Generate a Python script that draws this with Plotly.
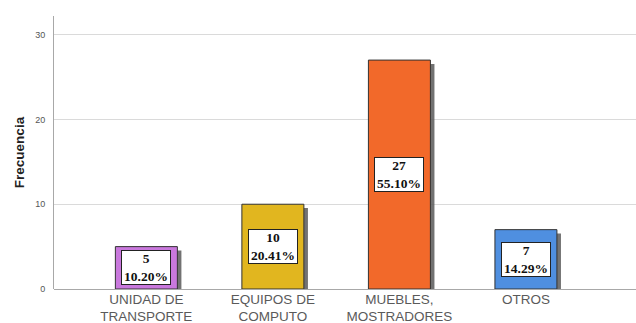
import plotly.graph_objects as go

# Frequency of asset categories
categories = ["UNIDAD DE<br>TRANSPORTE", "EQUIPOS DE<br>COMPUTO", "MUEBLES,<br>MOSTRADORES", "OTROS"]
frequencies = [5, 10, 27, 7]
bar_colors = ["#C978DD", "#E1B61F", "#F2692A", "#4F8FE0"]
y_ticks = [0, 10, 20, 30]

total = sum(frequencies)
percents = [f / total * 100 for f in frequencies]
x_pos = list(range(len(categories)))

BAR_W = 0.49
SHADOW_DX = 0.032   # shadow shift in category units
SHADOW_DY = 0.45    # shadow drop in value units

fig = go.Figure()

# Drop shadow behind each bar
fig.add_trace(go.Bar(
    x=x_pos,
    y=[f - SHADOW_DY + 0.25 for f in frequencies],
    base=[-0.25] * len(frequencies),
    width=[BAR_W] * len(frequencies),
    offset=[-BAR_W / 2 + SHADOW_DX] * len(frequencies),
    marker=dict(color="#5a5a5a", line=dict(width=0)),
    opacity=0.85,
    hoverinfo="skip",
    showlegend=False,
))

# Main bars
fig.add_trace(go.Bar(
    x=x_pos,
    y=frequencies,
    width=[BAR_W] * len(frequencies),
    offset=[-BAR_W / 2] * len(frequencies),
    marker=dict(color=bar_colors, line=dict(color="#333333", width=1)),
    showlegend=False,
))

# Value labels: count and percentage in a boxed label at mid-height
for x, f, p in zip(x_pos, frequencies, percents):
    fig.add_annotation(
        x=x, y=f / 2, xref="x", yref="y",
        text=f"<b>{f}<br>{p:.2f}%</b>",
        showarrow=False,
        font=dict(family="Liberation Serif", size=13.5, color="#111111"),
        bgcolor="white",
        bordercolor="#222222",
        borderwidth=1,
        borderpad=0,
        width=48,
        align="center",
    )

fig.update_layout(
    width=636, height=323,
    margin=dict(l=54, r=0, t=16, b=34),
    paper_bgcolor="white",
    plot_bgcolor="white",
    barmode="overlay",
    font=dict(family="Liberation Sans", color="#555555"),
    xaxis=dict(
        range=[-0.73, 3.87],
        tickmode="array",
        tickvals=x_pos,
        ticktext=categories,
        showgrid=False,
        zeroline=False,
        showline=False,
        ticks="",
        tickfont=dict(size=13.5, color="#5a5a5a"),
        ticklabelstandoff=0,
        automargin=False,
    ),
    yaxis=dict(
        range=[0, 32.2],
        tickvals=y_ticks,
        showgrid=True,
        gridcolor="#dadada",
        gridwidth=1,
        zeroline=True,
        zerolinecolor="#a8a8a8",
        zerolinewidth=1,
        showline=True,
        linecolor="#a8a8a8",
        linewidth=1,
        ticks="",
        ticklabelstandoff=6,
        tickfont=dict(size=9, color="#555555"),
        automargin=False,
        title=dict(text="<b>Frecuencia</b>", font=dict(size=13.5, color="#222222"), standoff=7),
    ),
)

fig.write_html("out.html")
